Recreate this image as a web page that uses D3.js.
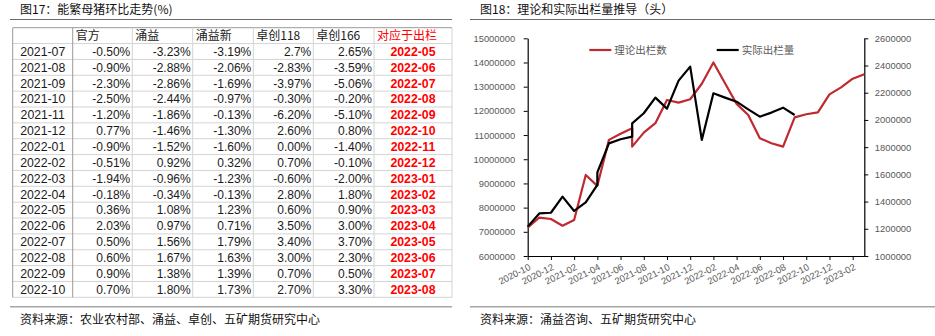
<!DOCTYPE html>
<html><head><meta charset="utf-8">
<script src="https://cdn.jsdelivr.net/npm/d3@7"></script>
<style>
html,body{margin:0;padding:0;background:#fff;}
svg{display:block;}
text{font-family:"Liberation Sans",Arial,"Noto Sans CJK SC",sans-serif;}
.cjk{font-family:"Noto Sans CJK SC","Liberation Sans",sans-serif;}
</style></head><body>
<svg id="c" width="935" height="336"></svg>
<script>
// ---------- Figure 17 table data ----------
const tableTitle = "图17：能繁母猪环比走势(%)";
const tableSource = "资料来源：农业农村部、涌益、卓创、五矿期货研究中心";
const tableHeaders = ["", "官方", "涌益", "涌益新", "卓创118", "卓创166", "对应于出栏"];
const tableMonths = ["2021-07","2021-08","2021-09","2021-10","2021-11","2021-12","2022-01","2022-02","2022-03","2022-04","2022-05","2022-06","2022-07","2022-08","2022-09","2022-10"];
const officialPct = ["-0.50%","-0.90%","-2.30%","-2.50%","-1.20%","0.77%","-0.90%","-0.51%","-1.94%","-0.18%","0.36%","2.03%","0.50%","0.60%","0.90%","0.70%"];
const yongyiPct = ["-3.23%","-2.88%","-2.86%","-2.44%","-1.86%","-1.46%","-1.52%","0.92%","-0.96%","-0.34%","1.08%","0.97%","1.56%","1.67%","1.38%","1.80%"];
const yongyiNewPct = ["-3.19%","-2.06%","-1.69%","-0.97%","-0.13%","-1.30%","-1.60%","0.32%","-1.23%","-0.13%","1.23%","0.71%","1.79%","1.63%","1.39%","1.73%"];
const zhuochuang118Pct = ["2.7%","-2.83%","-3.97%","-0.30%","-6.20%","2.60%","0.00%","0.70%","-0.60%","2.80%","0.60%","3.50%","3.40%","3.00%","0.70%","2.70%"];
const zhuochuang166Pct = ["2.65%","-3.59%","-5.06%","-0.20%","-5.10%","0.80%","-1.40%","-0.10%","-2.00%","1.80%","0.90%","3.00%","3.70%","2.30%","0.50%","3.30%"];
const slaughterMonths = ["2022-05","2022-06","2022-07","2022-08","2022-09","2022-10","2022-11","2022-12","2023-01","2023-02","2023-03","2023-04","2023-05","2023-06","2023-07","2023-08"];

// ---------- Figure 18 chart data ----------
const chartTitle = "图18：理论和实际出栏量推导（头）";
const chartSource = "资料来源：涌益咨询、五矿期货研究中心";
const months = ["2020-10","2020-11","2020-12","2021-01","2021-02","2021-03","2021-04","2021-05","2021-06","2021-07","2021-08","2021-09","2021-10","2021-11","2021-12","2022-01","2022-02","2022-03","2022-04","2022-05","2022-06","2022-07","2022-08","2022-09","2022-10","2022-11","2022-12","2023-01","2023-02","2023-03"];
const xTickLabels = ["2020-10","2020-12","2021-02","2021-04","2021-06","2021-08","2021-10","2021-12","2022-02","2022-04","2022-06","2022-08","2022-10","2022-12","2023-02"];
const leftTicks = [6000000,7000000,8000000,9000000,10000000,11000000,12000000,13000000,14000000,15000000];
const rightTicks = [1000000,1200000,1400000,1600000,1800000,2000000,2200000,2400000,2600000];
// 理论出栏数 (left axis)
const theoryMonths = ["2020-10","2020-11","2020-12","2021-01","2021-02","2021-03","2021-04","2021-05","2021-06","2021-07","2021-07","2021-08","2021-09","2021-10","2021-11","2021-12","2022-01","2022-02","2022-03","2022-04","2022-05","2022-06","2022-07","2022-08","2022-09","2022-10","2022-11","2022-12","2023-01","2023-02","2023-03"];
const theoryValues = [7170000,7590000,7530000,7250000,7490000,9350000,8900000,10800000,11050000,11280000,10520000,11100000,11490000,12450000,12340000,12480000,13120000,14000000,13140000,12290000,11830000,10870000,10660000,10520000,11730000,11860000,11940000,12680000,12970000,13330000,13510000];
// 实际出栏量 (right axis)
const actualMonths = ["2020-10","2020-11","2020-12","2021-01","2021-02","2021-03","2021-04","2021-04","2021-05","2021-06","2021-07","2021-07","2021-08","2021-09","2021-10","2021-11","2021-12","2022-01","2022-02","2022-03","2022-04","2022-05","2022-06","2022-07","2022-08","2022-09"];
const actualValues = [1216000,1313000,1318000,1436000,1331000,1394000,1522000,1615000,1828000,1858000,1877000,1975000,2049000,2164000,2083000,2289000,2392000,1853000,2196000,2164000,2134000,2078000,2024000,2054000,2090000,2036000];
const seriesNames = ["理论出栏数", "实际出栏量"];

const svg = d3.select("#c");
svg.append("rect").attr("width",935).attr("height",336).attr("fill","#fff");

// ================= Left: table =================
const L = svg.append("g");
L.append("text").attr("class","cjk").attr("x",20).attr("y",14).attr("font-size",12).attr("fill","#111").text(tableTitle);
L.append("line").attr("x1",10).attr("x2",452).attr("y1",19.5).attr("y2",19.5).attr("stroke","#6b6b6b").attr("stroke-width",1.2);

const colEdges = [12.7, 72.7, 132.3, 192.7, 253.3, 313.3, 374, 452];
const rowTop = 27.7, rowH = 15.86;
const nRows = tableMonths.length + 1;
const rowEdges = d3.range(nRows + 1).map(i => rowTop + i * rowH);

L.selectAll("line.h").data(rowEdges).join("line").attr("class","h")
  .attr("x1",colEdges[0]).attr("x2",colEdges[colEdges.length-1])
  .attr("y1",d=>d).attr("y2",d=>d).attr("stroke",(d,i)=> i===0 ? "#9a9a9a" : "#d4d4d4").attr("stroke-width",1);
L.selectAll("line.v").data(colEdges).join("line").attr("class","v")
  .attr("x1",d=>d).attr("x2",d=>d).attr("y1",rowTop).attr("y2",rowEdges[nRows])
  .attr("stroke",(d,i)=> (i<=1) ? "#9a9a9a" : "#d4d4d4").attr("stroke-width",1);

// header
L.selectAll("text.hd").data(tableHeaders).join("text").attr("class","hd cjk")
  .attr("x",(d,i)=>colEdges[i]+3).attr("y",rowTop + rowH/2 + 4.5)
  .attr("font-size",12).attr("fill",(d,i)=> i===6 ? "#ff0000" : "#1a1a1a").text(d=>d);

const cols = [officialPct, yongyiPct, yongyiNewPct, zhuochuang118Pct, zhuochuang166Pct];
tableMonths.forEach((m, r) => {
  const cy = rowTop + (r+1)*rowH + rowH/2 + 4.3;
  L.append("text").attr("x",(colEdges[0]+colEdges[1])/2).attr("y",cy).attr("text-anchor","middle")
    .attr("font-size",12.3).attr("fill","#1a1a1a").text(m);
  cols.forEach((arr, c) => {
    L.append("text").attr("x",colEdges[c+2]-2).attr("y",cy).attr("text-anchor","end")
      .attr("font-size",12).attr("fill","#1a1a1a").text(arr[r]);
  });
  L.append("text").attr("x",(colEdges[6]+colEdges[7])/2).attr("y",cy).attr("text-anchor","middle")
    .attr("font-size",12.3).attr("font-weight","bold").attr("fill","#ff0000").text(slaughterMonths[r]);
});

L.append("line").attr("x1",10).attr("x2",452).attr("y1",306.7).attr("y2",306.7).attr("stroke","#a6a6a6").attr("stroke-width",1.5);
L.append("text").attr("class","cjk").attr("x",20).attr("y",324).attr("font-size",12).attr("fill","#111").text(tableSource);

// ================= Right: chart =================
const R = svg.append("g");
R.append("text").attr("class","cjk").attr("x",480).attr("y",14).attr("font-size",12).attr("fill","#111").text(chartTitle);
R.append("line").attr("x1",470).attr("x2",935).attr("y1",19.5).attr("y2",19.5).attr("stroke","#6b6b6b").attr("stroke-width",1.2);
R.append("line").attr("x1",470).attr("x2",935).attr("y1",306.7).attr("y2",306.7).attr("stroke","#a6a6a6").attr("stroke-width",1.5);
R.append("text").attr("class","cjk").attr("x",480).attr("y",324).attr("font-size",12).attr("fill","#111").text(chartSource);

const px0 = 527.7, px1 = 864.3, py0 = 38.3, py1 = 256;
const x = d3.scalePoint().domain(months).range([px0, px1]).padding(0);
const yL = d3.scaleLinear().domain([6000000, 15000000]).range([py1, py0]);
const yR = d3.scaleLinear().domain([1000000, 2600000]).range([py1, py0]);

const fmt = d3.format("d");
const axL = R.append("g").attr("transform",`translate(${px0},0)`)
  .call(d3.axisLeft(yL).tickValues(leftTicks).tickSize(4).tickSizeOuter(0).tickPadding(8.5).tickFormat(fmt));
const axR = R.append("g").attr("transform",`translate(${px1},0)`)
  .call(d3.axisRight(yR).tickValues(rightTicks).tickSize(4).tickSizeOuter(0).tickPadding(6.5).tickFormat(fmt));
const axB = R.append("g").attr("transform",`translate(0,${py1})`)
  .call(d3.axisBottom(x).tickValues(xTickLabels).tickSize(4).tickSizeOuter(0));
[axL, axR, axB].forEach(a => {
  a.select(".domain").attr("stroke","#000").attr("stroke-width",1.2);
  a.selectAll(".tick line").attr("stroke","#000");
  a.selectAll("text").attr("fill","#595959").attr("font-size",9.4).attr("font-family","'Liberation Sans',Arial,sans-serif");
});
axB.selectAll(".tick text").attr("text-anchor","end").attr("dy",null).attr("y",null)
  .attr("transform","translate(2,11) rotate(-27)").attr("dominant-baseline","middle");

const line = d3.line().x(d => x(d[0]));
R.append("path").datum(d3.zip(theoryMonths, theoryValues))
  .attr("fill","none").attr("stroke","#BE2A30").attr("stroke-width",2.2).attr("stroke-linejoin","round")
  .attr("d", line.y(d => yL(d[1])));
R.append("path").datum(d3.zip(actualMonths, actualValues))
  .attr("fill","none").attr("stroke","#000").attr("stroke-width",2.2).attr("stroke-linejoin","round")
  .attr("d", d3.line().x(d => x(d[0])).y(d => yR(d[1])));

// legend
const legend = R.append("g");
const legItems = [{name:seriesNames[0], color:"#BE2A30", x:589.3}, {name:seriesNames[1], color:"#000", x:716.7}];
legend.selectAll("line").data(legItems).join("line")
  .attr("x1",d=>d.x).attr("x2",d=>d.x+22).attr("y1",50).attr("y2",50).attr("stroke",d=>d.color).attr("stroke-width",2.2);
legend.selectAll("text").data(legItems).join("text").attr("class","cjk")
  .attr("x",d=>d.x+25).attr("y",54).attr("font-size",10.5).attr("fill","#595959").text(d=>d.name);
</script></body></html>
